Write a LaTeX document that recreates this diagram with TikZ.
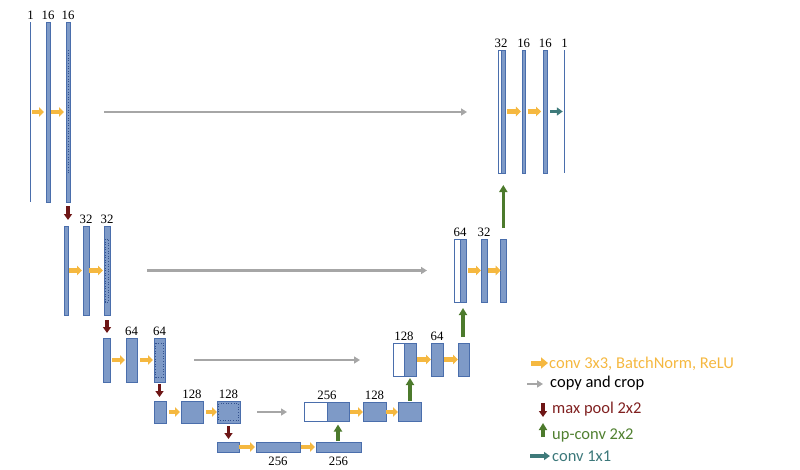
\documentclass[tikz,border=0pt]{standalone}
\usepackage{fontspec}
\setmainfont{Liberation Serif}
\newfontfamily\legfont{Carlito}
\usetikzlibrary{arrows.meta,calc}
\definecolor{barfill}{RGB}{126,154,199}
\definecolor{barline}{RGB}{74,110,172}
\definecolor{cropcol}{RGB}{50,80,140}
\definecolor{convcol}{RGB}{245,184,64}
\definecolor{copycol}{RGB}{166,166,166}
\definecolor{poolcol}{RGB}{110,22,22}
\definecolor{upcol}{RGB}{76,122,44}
\definecolor{onecol}{RGB}{62,122,122}
\definecolor{pooltxt}{RGB}{128,32,32}
\definecolor{uptxt}{RGB}{80,128,48}
\definecolor{onetxt}{RGB}{60,120,122}
\tikzset{
  barn/.style={draw=barline, fill=barfill, line width=0.6pt, inner sep=0pt, outer sep=0pt, minimum width=#1},
  whitebar/.style={draw=barline, fill=white, line width=0.6pt, inner sep=0pt, outer sep=0pt, minimum width=#1},
  thinbar/.style={fill=barline, draw=none, inner sep=0pt, outer sep=0pt, minimum width=1.4pt},
  lbl/.style={font=\fontsize{12.8}{15}\selectfont, inner sep=0pt, anchor=base, yshift=3pt},
  lblb/.style={font=\fontsize{12.8}{15}\selectfont, inner sep=0pt, anchor=base, yshift=-13pt},
  convarr/.style={draw=convcol, line width=4.3pt, -{Triangle[length=5pt,width=9.5pt]}},
  copyarr/.style={draw=copycol, line width=2.8pt, -{Triangle[length=6pt,width=7pt]}},
  poolarr/.style={draw=poolcol, line width=3.5pt, -{Triangle[length=6pt,width=8pt]}},
  uparr/.style={draw=upcol, line width=3.5pt, -{Triangle[length=7pt,width=8pt]}},
  onearr/.style={draw=onecol, line width=3.5pt, -{Triangle[length=6pt,width=8pt]}},
  cropline/.style={draw=cropcol, dash pattern=on 0.8pt off 1.8pt, line width=0.8pt},
  legtxt/.style={font=\legfont\fontsize{16.5}{19}\selectfont, inner sep=0pt, anchor=base west}
}
\begin{document}
\begin{tikzpicture}[x=1pt,y=-1pt]
\useasboundingbox (0,0) rectangle (800,469);
% ---------- level 1 (left)
\node[thinbar, minimum height=180] (b11) at (30.5,112) {};
\node[barn=4, minimum height=180] (b12) at (48,112) {};
\node[barn=4, minimum height=180] (b13) at (68,112) {};
\draw[cropline] (68,50) -- (68,173);
\node[lbl] (t11) at (b11.north) {1};
\node[lbl] (t12) at (b12.north) {16};
\node[lbl] (t13) at (b13.north) {16};
% ---------- level 2 (left)
\node[barn=4, minimum height=89] (b21) at (66,270.5) {};
\node[barn=6, minimum height=89] (b22) at (86,270.5) {};
\node[barn=6, minimum height=89] (b23) at (107,270.5) {};
\draw[cropline] (105.3,239) rectangle (108.7,302);
\node[lbl] (t22) at (b22.north) {32};
\node[lbl] (t23) at (b23.north) {32};
% ---------- level 3 (left)
\node[barn=7, minimum height=44] (b31) at (106.5,360) {};
\node[barn=11, minimum height=44] (b32) at (131.5,360) {};
\node[barn=11, minimum height=44] (b33) at (159.5,360) {};
\draw[cropline] (155.5,343) rectangle (163.5,377);
\node[lbl] (t32) at (b32.north) {64};
\node[lbl] (t33) at (b33.north) {64};
% ---------- level 4 (left)
\node[barn=12, minimum height=22] (b41) at (160,412) {};
\node[barn=22, minimum height=22] (b42) at (192,412) {};
\node[barn=23, minimum height=22] (b43) at (228.5,412) {};
\draw[cropline] (218.8,403.5) rectangle (238.2,420.5);
\node[lbl] (t42) at (b42.north) {128};
\node[lbl] (t43) at (b43.north) {128};
% ---------- bottom
\node[barn=22, minimum height=10] (b51) at (228,447) {};
\node[barn=44, minimum height=10] (b52) at (278,447) {};
\node[barn=45, minimum height=10] (b53) at (338.5,447) {};
\node[lblb] (t52) at (b52.south) {256};
\node[lblb] (t53) at (b53.south) {256};
% ---------- level 4 (right)
\node[whitebar=23, minimum height=19] (w4) at (315.5,412) {};
\node[barn=22, minimum height=19] (c4) at (338,412) {};
\node[barn=23, minimum height=19] (d4) at (374.5,412) {};
\node[barn=23, minimum height=19] (e4) at (409.5,412) {};
\node[lbl] (tw4) at (w4.north east) {256};
\node[lbl] (td4) at (d4.north) {128};
% ---------- level 3 (right)
\node[whitebar=11, minimum height=33] (w3) at (398.5,359.5) {};
\node[barn=12, minimum height=33] (c3) at (410,359.5) {};
\node[barn=12, minimum height=33] (d3) at (437,359.5) {};
\node[barn=11, minimum height=33] (e3) at (463.5,359.5) {};
\node[lbl] (tw3) at (w3.north east) {128};
\node[lbl] (td3) at (d3.north) {64};
% ---------- level 2 (right)
\node[whitebar=6, minimum height=63] (w2) at (457,270.5) {};
\node[barn=6, minimum height=63] (c2) at (463,270.5) {};
\node[barn=6, minimum height=63] (d2) at (484,270.5) {};
\node[barn=6, minimum height=63] (e2) at (503.7,270.5) {};
\node[lbl] (tw2) at (w2.north east) {64};
\node[lbl] (td2) at (d2.north) {32};
% ---------- level 1 (right)
\node[whitebar=3, minimum height=123] (w1) at (499.5,111.5) {};
\node[barn=4.7, minimum height=123] (c1) at (503.3,111.5) {};
\node[barn=3.5, minimum height=123] (d1) at (523.7,111.5) {};
\node[barn=3.5, minimum height=123] (e1) at (545.3,111.5) {};
\node[thinbar, minimum height=123] (f1) at (564.5,111.5) {};
\node[lbl] (tw1) at (w1.north east) {32};
\node[lbl] (td1) at (d1.north) {16};
\node[lbl] (te1) at (e1.north) {16};
\node[lbl] (tf1) at (f1.north) {1};
% ---------- conv 3x3 arrows
\draw[convarr, shorten <=1pt, shorten >=2pt] (b11) -- (b12);
\draw[convarr, shorten <=1pt, shorten >=2pt] (b12) -- (b13);
\draw[convarr, shorten <=1pt, shorten >=1pt] (b21) -- (b22);
\draw[convarr, shorten <=0pt, shorten >=1pt] (b22) -- (b23);
\draw[convarr, shorten <=2pt, shorten >=1pt] (b31) -- (b32);
\draw[convarr, shorten <=3pt, shorten >=1pt] (b32) -- (b33);
\draw[convarr, shorten <=3pt, shorten >=1pt] (b41) -- (b42);
\draw[convarr, shorten <=3pt, shorten >=0pt] (b42) -- (b43);
\draw[convarr, shorten <=0pt, shorten >=1pt] (b51) -- (b52);
\draw[convarr, shorten <=1pt, shorten >=1pt] (b52) -- (b53);
\draw[convarr, shorten <=1pt, shorten >=0pt] (c4) -- (d4);
\draw[convarr, shorten <=0pt, shorten >=0pt] (d4) -- (e4);
\draw[convarr, shorten <=1pt, shorten >=0pt] (c3) -- (d3);
\draw[convarr, shorten <=1pt, shorten >=0pt] (d3) -- (e3);
\draw[convarr, shorten <=2pt, shorten >=0pt] (c2) -- (d2);
\draw[convarr, shorten <=1pt, shorten >=0pt] (d2) -- (e2);
\draw[convarr, shorten <=1.5pt, shorten >=1pt] (c1) -- (d1);
\draw[convarr, shorten <=2.5pt, shorten >=2.5pt] (d1) -- (e1);
\draw[onearr, shorten <=3pt, shorten >=1pt] (e1) -- (f1);
% ---------- copy and crop
\draw[copyarr, shorten <=34pt, shorten >=31pt] (b13.east) -- (b13.east -| w1.west);
\draw[copyarr, shorten <=37pt, shorten >=27pt] (b23.east) -- (b23.east -| w2.west);
\draw[copyarr, shorten <=29pt, shorten >=33pt] (b33.east) -- (b33.east -| w3.west);
\draw[copyarr, shorten <=17pt, shorten >=17pt] (b43.east) -- (b43.east -| w4.west);
% ---------- max pool
\draw[poolarr, shorten <=4pt, shorten >=6pt] (b13.south) -- (b13.south |- b21.north);
\draw[poolarr, shorten <=5pt, shorten >=5pt] (b23.south) -- (b23.south |- b31.north);
\draw[poolarr, shorten <=2pt, shorten >=4pt] (b33.south) -- (b33.south |- b41.north);
\draw[poolarr, shorten <=3pt, shorten >=3pt] (b43.south) -- (b43.south |- b51.north);
% ---------- up-conv
\draw[uparr, shorten <=1pt, shorten >=3pt] (b53.north -| c4) -- (c4.south);
\draw[uparr, shorten <=2pt, shorten >=2pt] (e4.north -| c3) -- (c3.south);
\draw[uparr, shorten <=6pt, shorten >=6pt] (e3.north -| c2) -- (c2.south);
\draw[uparr, shorten <=11pt, shorten >=12pt] (e2.north -| c1) -- (c1.south);
% ---------- legend
\coordinate (la1) at (531,363); \coordinate (la2) at (548,363);
\draw[convarr, line width=5pt, -{Triangle[length=7pt,width=11pt]}] (la1) -- (la2);
\node[legtxt, text=convcol] (lt1) at (549,368) {conv 3x3, BatchNorm, ReLU};
\coordinate (lb1) at (527,384); \coordinate (lb2) at (543,384);
\draw[copyarr] (lb1) -- (lb2);
\node[legtxt, text=black] (lt2) at (550,387.5) {copy and crop};
\coordinate (lc1) at (543,403); \coordinate (lc2) at (543,417);
\draw[poolarr] (lc1) -- (lc2);
\node[legtxt, text=pooltxt] (lt3) at (552,413.5) {max pool 2x2};
\coordinate (ld1) at (543,437); \coordinate (ld2) at (543,423);
\draw[uparr] (ld1) -- (ld2);
\node[legtxt, text=uptxt] (lt4) at (552,439.5) {up-conv 2x2};
\coordinate (le1) at (530,456); \coordinate (le2) at (550,456);
\draw[onearr] (le1) -- (le2);
\node[legtxt, text=onetxt] (lt5) at (552,461) {conv 1x1};
\end{tikzpicture}
\end{document}
